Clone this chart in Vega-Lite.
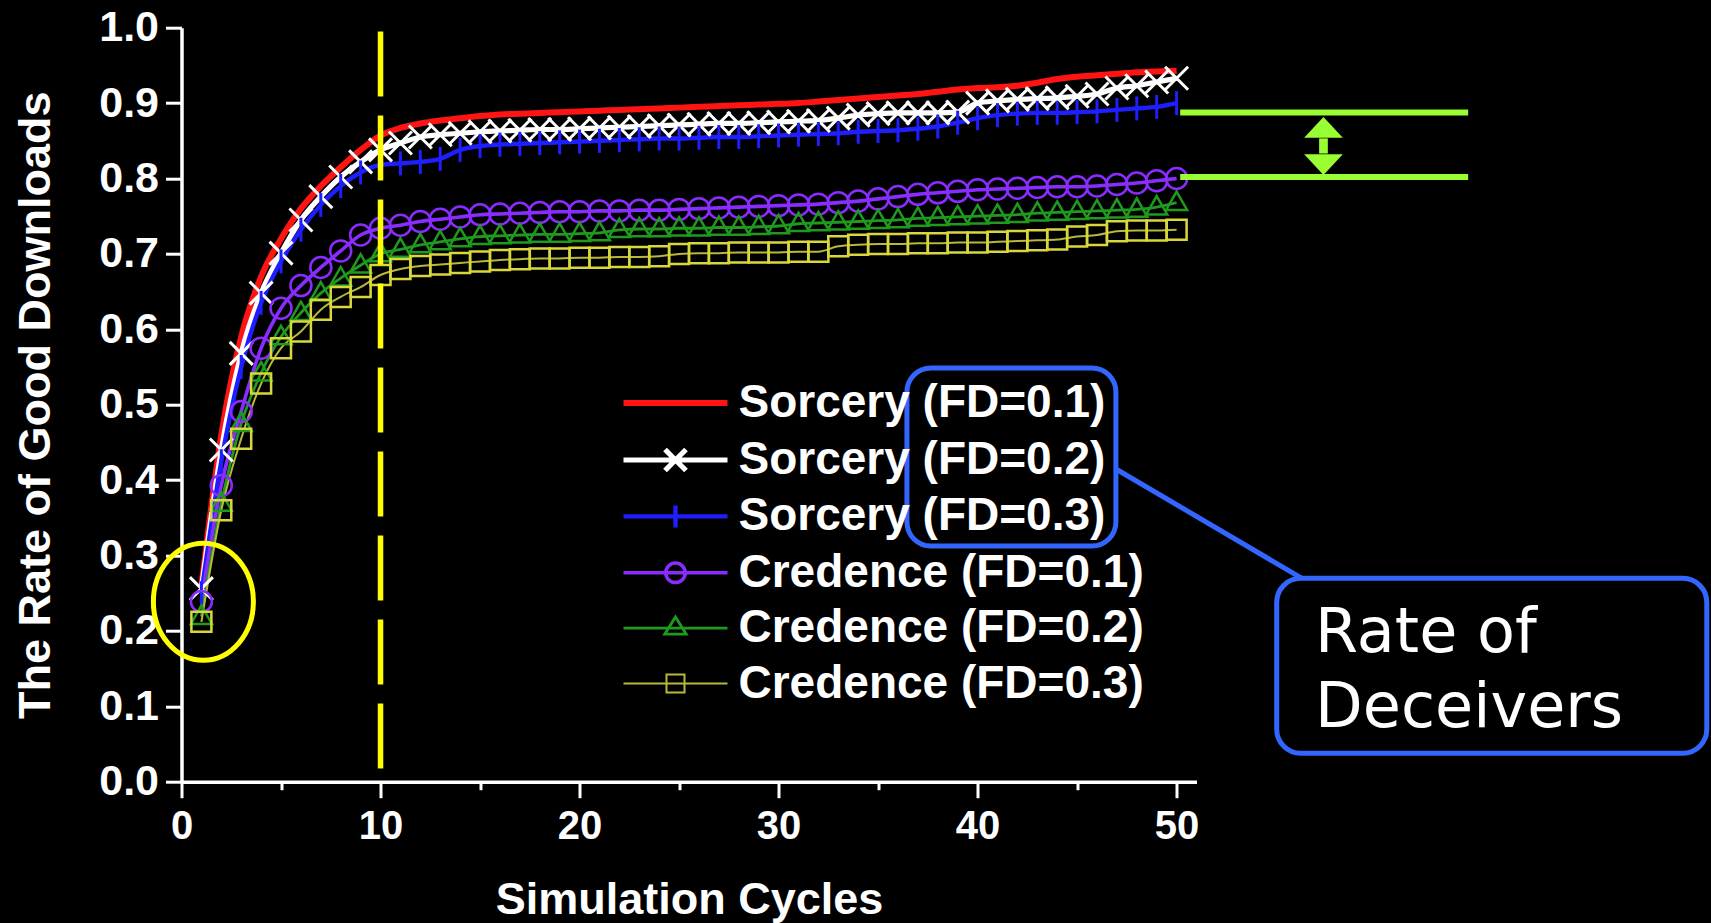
{
  "$schema": "https://vega.github.io/schema/vega-lite/v6.json",
  "autosize": {"type": "none"},
  "padding": {"left": 181.5, "top": 27.7, "right": 514.5, "bottom": 141.3},
  "width": 1015,
  "height": 754,
  "background": "#000000",
  "config": {"view": {"stroke": null}, "font": "Liberation Sans"},
  "datasets": {
    "curves": [
      {"cycle":1,"s1":0.26,"s2":0.256,"s3":0.25,"c1":0.239,"c2":0.219,"c3":0.212},
      {"cycle":2,"s1":0.46,"s2":0.44,"s3":0.425,"c1":0.393,"c2":0.369,"c3":0.36},
      {"cycle":3,"s1":0.59,"s2":0.568,"s3":0.55,"c1":0.491,"c2":0.475,"c3":0.455},
      {"cycle":4,"s1":0.67,"s2":0.648,"s3":0.635,"c1":0.575,"c2":0.542,"c3":0.528},
      {"cycle":5,"s1":0.72,"s2":0.701,"s3":0.69,"c1":0.628,"c2":0.59,"c3":0.575},
      {"cycle":6,"s1":0.76,"s2":0.745,"s3":0.732,"c1":0.658,"c2":0.622,"c3":0.597},
      {"cycle":7,"s1":0.79,"s2":0.776,"s3":0.765,"c1":0.682,"c2":0.648,"c3":0.626},
      {"cycle":8,"s1":0.815,"s2":0.802,"s3":0.79,"c1":0.704,"c2":0.668,"c3":0.643},
      {"cycle":9,"s1":0.838,"s2":0.822,"s3":0.808,"c1":0.725,"c2":0.685,"c3":0.656},
      {"cycle":10,"s1":0.857,"s2":0.838,"s3":0.818,"c1":0.734,"c2":0.7,"c3":0.672},
      {"cycle":11,"s1":0.867,"s2":0.847,"s3":0.82,"c1":0.738,"c2":0.706,"c3":0.68},
      {"cycle":12,"s1":0.873,"s2":0.855,"s3":0.822,"c1":0.743,"c2":0.712,"c3":0.684},
      {"cycle":13,"s1":0.877,"s2":0.858,"s3":0.826,"c1":0.746,"c2":0.716,"c3":0.686},
      {"cycle":14,"s1":0.88,"s2":0.86,"s3":0.838,"c1":0.749,"c2":0.72,"c3":0.688},
      {"cycle":15,"s1":0.883,"s2":0.862,"s3":0.843,"c1":0.752,"c2":0.723,"c3":0.69},
      {"cycle":16,"s1":0.885,"s2":0.863,"s3":0.845,"c1":0.753,"c2":0.724,"c3":0.692},
      {"cycle":17,"s1":0.886,"s2":0.864,"s3":0.846,"c1":0.754,"c2":0.725,"c3":0.693},
      {"cycle":18,"s1":0.887,"s2":0.865,"s3":0.847,"c1":0.755,"c2":0.726,"c3":0.694},
      {"cycle":19,"s1":0.888,"s2":0.865,"s3":0.848,"c1":0.756,"c2":0.726,"c3":0.694},
      {"cycle":20,"s1":0.889,"s2":0.866,"s3":0.849,"c1":0.756,"c2":0.727,"c3":0.695},
      {"cycle":21,"s1":0.89,"s2":0.867,"s3":0.85,"c1":0.757,"c2":0.728,"c3":0.695},
      {"cycle":22,"s1":0.891,"s2":0.868,"s3":0.851,"c1":0.757,"c2":0.732,"c3":0.696},
      {"cycle":23,"s1":0.892,"s2":0.869,"s3":0.852,"c1":0.758,"c2":0.733,"c3":0.696},
      {"cycle":24,"s1":0.893,"s2":0.87,"s3":0.853,"c1":0.758,"c2":0.733,"c3":0.697},
      {"cycle":25,"s1":0.894,"s2":0.871,"s3":0.853,"c1":0.759,"c2":0.734,"c3":0.7},
      {"cycle":26,"s1":0.895,"s2":0.872,"s3":0.854,"c1":0.76,"c2":0.734,"c3":0.701},
      {"cycle":27,"s1":0.896,"s2":0.873,"s3":0.855,"c1":0.761,"c2":0.735,"c3":0.701},
      {"cycle":28,"s1":0.897,"s2":0.873,"s3":0.855,"c1":0.762,"c2":0.735,"c3":0.702},
      {"cycle":29,"s1":0.898,"s2":0.874,"s3":0.856,"c1":0.763,"c2":0.736,"c3":0.702},
      {"cycle":30,"s1":0.899,"s2":0.875,"s3":0.857,"c1":0.764,"c2":0.737,"c3":0.702},
      {"cycle":31,"s1":0.9,"s2":0.876,"s3":0.858,"c1":0.765,"c2":0.74,"c3":0.703},
      {"cycle":32,"s1":0.902,"s2":0.877,"s3":0.859,"c1":0.766,"c2":0.741,"c3":0.703},
      {"cycle":33,"s1":0.904,"s2":0.88,"s3":0.86,"c1":0.768,"c2":0.742,"c3":0.71},
      {"cycle":34,"s1":0.906,"s2":0.884,"s3":0.862,"c1":0.77,"c2":0.743,"c3":0.712},
      {"cycle":35,"s1":0.908,"s2":0.886,"s3":0.863,"c1":0.773,"c2":0.744,"c3":0.713},
      {"cycle":36,"s1":0.91,"s2":0.887,"s3":0.864,"c1":0.776,"c2":0.745,"c3":0.713},
      {"cycle":37,"s1":0.912,"s2":0.887,"s3":0.866,"c1":0.779,"c2":0.747,"c3":0.714},
      {"cycle":38,"s1":0.915,"s2":0.887,"s3":0.869,"c1":0.781,"c2":0.748,"c3":0.714},
      {"cycle":39,"s1":0.918,"s2":0.888,"s3":0.874,"c1":0.783,"c2":0.749,"c3":0.715},
      {"cycle":40,"s1":0.92,"s2":0.9,"s3":0.88,"c1":0.785,"c2":0.75,"c3":0.715},
      {"cycle":41,"s1":0.921,"s2":0.903,"s3":0.884,"c1":0.786,"c2":0.751,"c3":0.716},
      {"cycle":42,"s1":0.923,"s2":0.905,"s3":0.886,"c1":0.787,"c2":0.752,"c3":0.717},
      {"cycle":43,"s1":0.927,"s2":0.906,"s3":0.887,"c1":0.788,"c2":0.754,"c3":0.718},
      {"cycle":44,"s1":0.932,"s2":0.907,"s3":0.887,"c1":0.789,"c2":0.755,"c3":0.719},
      {"cycle":45,"s1":0.935,"s2":0.909,"s3":0.888,"c1":0.789,"c2":0.756,"c3":0.723},
      {"cycle":46,"s1":0.937,"s2":0.912,"s3":0.889,"c1":0.79,"c2":0.757,"c3":0.725},
      {"cycle":47,"s1":0.939,"s2":0.92,"s3":0.891,"c1":0.792,"c2":0.758,"c3":0.73},
      {"cycle":48,"s1":0.941,"s2":0.923,"s3":0.893,"c1":0.794,"c2":0.759,"c3":0.731},
      {"cycle":49,"s1":0.942,"s2":0.928,"s3":0.895,"c1":0.797,"c2":0.762,"c3":0.731},
      {"cycle":50,"s1":0.943,"s2":0.933,"s3":0.9,"c1":0.8,"c2":0.768,"c3":0.732}
    ],
    "divider": [{"cycle": 10, "top": 0.995, "bottom": 0.017}],
    "highlight": [{"cycle": 1.1, "rate": 0.2387}],
    "gapLines": [
      {"from": 50.18, "to": 64.65, "level": 0.8874},
      {"from": 50.18, "to": 64.65, "level": 0.8021}
    ],
    "gapShaft": [{"pos": 57.38, "top": 0.8532, "bottom": 0.8331}],
    "gapHeads": [
      {"pos": 57.38, "level": 0.8542, "dir": "up"},
      {"pos": 57.38, "level": 0.8321, "dir": "down"}
    ],
    "boxes": [
      {"left": 36.45, "right": 46.95, "top": 0.5487, "bottom": 0.3126},
      {"left": 55.03, "right": 76.64, "top": 0.2697, "bottom": 0.0376}
    ],
    "connector": [{"x1": 46.95, "y1": 0.4147, "x2": 56.3, "y2": 0.2697}],
    "note": [{"pos": 56.96, "level": 0.1724, "label": "Rate of\nDeceivers"}]
  },
  "layer": [
    {
      "data": {"name": "curves"},
      "transform": [{"fold": ["s1", "s2", "s3", "c1", "c2", "c3"], "as": ["series", "rate"]}],
      "mark": {"type": "line", "interpolate": "monotone"},
      "encoding": {
        "x": {
          "field": "cycle", "type": "quantitative",
          "scale": {"domain": [0, 51], "nice": false, "zero": false},
          "axis": {
            "title": "Simulation Cycles",
            "values": [0, 5, 10, 15, 20, 25, 30, 35, 40, 45, 50],
            "labelExpr": "datum.value % 10 == 0 ? datum.label : ''",
            "tickSize": {"condition": {"test": "datum.value % 10 != 0", "value": 8}, "value": 16},
            "tickWidth": 3, "tickColor": "#ffffff",
            "domainColor": "#ffffff", "domainWidth": 3.5,
            "grid": false, "labelFlush": false, "labelOverlap": false,
            "labelFont": "Liberation Sans", "labelFontWeight": "bold", "labelFontSize": 40,
            "labelColor": "#ffffff", "labelPadding": 9,
            "titleFont": "Liberation Sans", "titleFontWeight": "bold", "titleFontSize": 45,
            "titleColor": "#ffffff", "titlePadding": 31
          }
        },
        "y": {
          "field": "rate", "type": "quantitative",
          "scale": {"domain": [0, 1], "nice": false},
          "axis": {
            "title": "The Rate of Good Downloads",
            "values": [0, 0.05, 0.1, 0.15, 0.2, 0.25, 0.3, 0.35, 0.4, 0.45, 0.5, 0.55, 0.6, 0.65, 0.7, 0.75, 0.8, 0.85, 0.9, 0.95, 1],
            "labelExpr": "round(datum.value * 20) % 2 == 0 ? format(datum.value, '.1f') : ''",
            "tickSize": {"condition": {"test": "round(datum.value * 20) % 2 == 1", "value": 8}, "value": 16},
            "tickWidth": 3, "tickColor": "#ffffff",
            "domainColor": "#ffffff", "domainWidth": 3.5,
            "grid": false, "labelFlush": false, "labelOverlap": false,
            "labelFont": "Liberation Sans", "labelFontWeight": "bold", "labelFontSize": 43,
            "labelColor": "#ffffff", "labelPadding": 7,
            "titleFont": "Liberation Sans", "titleFontWeight": "bold", "titleFontSize": 45,
            "titleColor": "#ffffff", "titlePadding": 40
          }
        },
        "color": {
          "field": "series", "type": "nominal",
          "scale": {
            "domain": ["s1", "s2", "s3", "c1", "c2", "c3"],
            "range": ["#ff1414", "#ffffff", "#1e1eff", "#8a2cff", "#1f9a1f", "#b8b83a"]
          },
          "legend": {
            "title": null,
            "orient": "none",
            "legendX": 466,
            "legendY": 347.4,
            "padding": 0,
            "rowPadding": 5.9,
            "labelOffset": 35,
            "symbolSize": 2500,
            "symbolStrokeWidth": 2.5,
            "symbolType": "stroke",
            "labelFont": "Liberation Sans",
            "labelFontWeight": "bold",
            "labelFontSize": 46,
            "labelColor": "#ffffff",
            "labelLimit": 1000,
            "labelExpr": "datum.value == 's1' ? 'Sorcery (FD=0.1)' : datum.value == 's2' ? 'Sorcery (FD=0.2)' : datum.value == 's3' ? 'Sorcery (FD=0.3)' : datum.value == 'c1' ? 'Credence (FD=0.1)' : datum.value == 'c2' ? 'Credence (FD=0.2)' : 'Credence (FD=0.3)'",
            "encode": {
              "symbols": {
                "update": {
                  "fill": {"value": "transparent"},
                  "strokeWidth": [{"test": "datum.value == 's1'", "value": 6}, {"value": 2.5}],
                  "shape": [
                    {"test": "datum.value == 's2'", "value": "M -2.08 0 L 2.08 0 M -0.42 -0.42 L 0.42 0.42 M -0.42 0.42 L 0.42 -0.42"},
                    {"test": "datum.value == 's3'", "value": "M -2.08 0 L 2.08 0 M 0 -0.44 L 0 0.44"},
                    {"test": "datum.value == 'c1'", "value": "M -2.08 0 L 2.08 0 M 0.39 0 A 0.39 0.39 0 1 1 -0.39 0 A 0.39 0.39 0 1 1 0.39 0"},
                    {"test": "datum.value == 'c2'", "value": "M -2.08 0 L 2.08 0 M 0 -0.45 L 0.43 0.24 L -0.43 0.24 Z"},
                    {"test": "datum.value == 'c3'", "value": "M -2.08 0 L 2.08 0 M -0.36 -0.36 L 0.36 -0.36 L 0.36 0.36 L -0.36 0.36 Z"},
                    {"value": "M -2.08 0 L 2.08 0"}
                  ]
                }
              }
            }
          }
        },
        "strokeWidth": {
          "field": "series", "type": "nominal",
          "scale": {"domain": ["s1", "s2", "s3", "c1", "c2", "c3"], "range": [6, 2, 3, 2.5, 2, 2]},
          "legend": null
        }
      }
    },
    {
      "data": {"name": "curves"},
      "transform": [{"fold": ["s1", "s2", "s3", "c1", "c2", "c3"], "as": ["series", "rate"]}, {"filter": {"field": "series", "equal": "s2"}}],
      "mark": {"type": "point", "shape": "M -1 -1 L 1 1 M -1 1 L 1 -1", "size": 529, "filled": false, "stroke": "#ffffff", "strokeWidth": 3, "opacity": 1},
      "encoding": {
        "x": {"field": "cycle", "type": "quantitative"},
        "y": {"field": "rate", "type": "quantitative"}
      }
    },
    {
      "data": {"name": "curves"},
      "transform": [{"fold": ["s1", "s2", "s3", "c1", "c2", "c3"], "as": ["series", "rate"]}, {"filter": {"field": "series", "equal": "s3"}}],
      "mark": {"type": "point", "shape": "M 0 -1 L 0 1", "size": 576, "filled": false, "stroke": "#1e1eff", "strokeWidth": 3, "opacity": 1},
      "encoding": {
        "x": {"field": "cycle", "type": "quantitative"},
        "y": {"field": "rate", "type": "quantitative"}
      }
    },
    {
      "data": {"name": "curves"},
      "transform": [{"fold": ["s1", "s2", "s3", "c1", "c2", "c3"], "as": ["series", "rate"]}, {"filter": {"field": "series", "equal": "c1"}}],
      "mark": {"type": "point", "shape": "circle", "size": 441, "filled": false, "stroke": "#8a2cff", "strokeWidth": 2.5, "opacity": 1},
      "encoding": {
        "x": {"field": "cycle", "type": "quantitative"},
        "y": {"field": "rate", "type": "quantitative"}
      }
    },
    {
      "data": {"name": "curves"},
      "transform": [{"fold": ["s1", "s2", "s3", "c1", "c2", "c3"], "as": ["series", "rate"]}, {"filter": {"field": "series", "equal": "c2"}}],
      "mark": {"type": "point", "shape": "M 0 -1.05 L 1 0.7 L -1 0.7 Z", "size": 441, "filled": false, "stroke": "#1f9a1f", "strokeWidth": 2.5, "opacity": 1},
      "encoding": {
        "x": {"field": "cycle", "type": "quantitative"},
        "y": {"field": "rate", "type": "quantitative"}
      }
    },
    {
      "data": {"name": "curves"},
      "transform": [{"fold": ["s1", "s2", "s3", "c1", "c2", "c3"], "as": ["series", "rate"]}, {"filter": {"field": "series", "equal": "c3"}}],
      "mark": {"type": "point", "shape": "square", "size": 400, "filled": false, "stroke": "#d8d83c", "strokeWidth": 2.5, "opacity": 1},
      "encoding": {
        "x": {"field": "cycle", "type": "quantitative"},
        "y": {"field": "rate", "type": "quantitative"}
      }
    },
    {
      "data": {"name": "divider"},
      "mark": {"type": "rule", "color": "#ffff00", "strokeWidth": 5.5, "strokeDash": [65, 19]},
      "encoding": {
        "x": {"field": "cycle", "type": "quantitative"},
        "y": {"field": "top", "type": "quantitative"},
        "y2": {"field": "bottom"}
      }
    },
    {
      "data": {"name": "highlight"},
      "mark": {"type": "point", "shape": "M -0.855 0 A 0.855 1 0 1 0 0.855 0 A 0.855 1 0 1 0 -0.855 0 Z", "size": 13689, "filled": false, "stroke": "#ffff00", "strokeWidth": 5, "opacity": 1},
      "encoding": {
        "x": {"field": "cycle", "type": "quantitative"},
        "y": {"field": "rate", "type": "quantitative"}
      }
    },
    {
      "data": {"name": "gapLines"},
      "mark": {"type": "rule", "color": "#99ff33", "strokeWidth": 6},
      "encoding": {
        "x": {"field": "from", "type": "quantitative"},
        "x2": {"field": "to"},
        "y": {"field": "level", "type": "quantitative"}
      }
    },
    {
      "data": {"name": "gapShaft"},
      "mark": {"type": "rule", "color": "#99ff33", "strokeWidth": 8.7},
      "encoding": {
        "x": {"field": "pos", "type": "quantitative"},
        "y": {"field": "top", "type": "quantitative"},
        "y2": {"field": "bottom"}
      }
    },
    {
      "data": {"name": "gapHeads"},
      "mark": {"type": "point", "filled": true, "fill": "#99ff33", "strokeWidth": 0, "size": 1496, "opacity": 1},
      "encoding": {
        "x": {"field": "pos", "type": "quantitative"},
        "y": {"field": "level", "type": "quantitative"},
        "shape": {
          "field": "dir", "type": "nominal",
          "scale": {"domain": ["up", "down"], "range": ["M 0 -1.07 L 1 0 L -1 0 Z", "M 0 1.07 L 1 0 L -1 0 Z"]},
          "legend": null
        }
      }
    },
    {
      "data": {"name": "boxes"},
      "mark": {"type": "rect", "fill": "transparent", "stroke": "#3366ff", "strokeWidth": 5, "cornerRadius": 24},
      "encoding": {
        "x": {"field": "left", "type": "quantitative"},
        "x2": {"field": "right"},
        "y": {"field": "top", "type": "quantitative"},
        "y2": {"field": "bottom"}
      }
    },
    {
      "data": {"name": "connector"},
      "mark": {"type": "rule", "color": "#3366ff", "strokeWidth": 5},
      "encoding": {
        "x": {"field": "x1", "type": "quantitative"},
        "x2": {"field": "x2"},
        "y": {"field": "y1", "type": "quantitative"},
        "y2": {"field": "y2"}
      }
    },
    {
      "data": {"name": "note"},
      "mark": {"type": "text", "font": "DejaVu Sans", "fontSize": 62, "color": "#ffffff", "align": "left", "baseline": "alphabetic", "lineBreak": "\n", "lineHeight": 75},
      "encoding": {
        "x": {"field": "pos", "type": "quantitative"},
        "y": {"field": "level", "type": "quantitative"},
        "text": {"field": "label"}
      }
    }
  ]
}
